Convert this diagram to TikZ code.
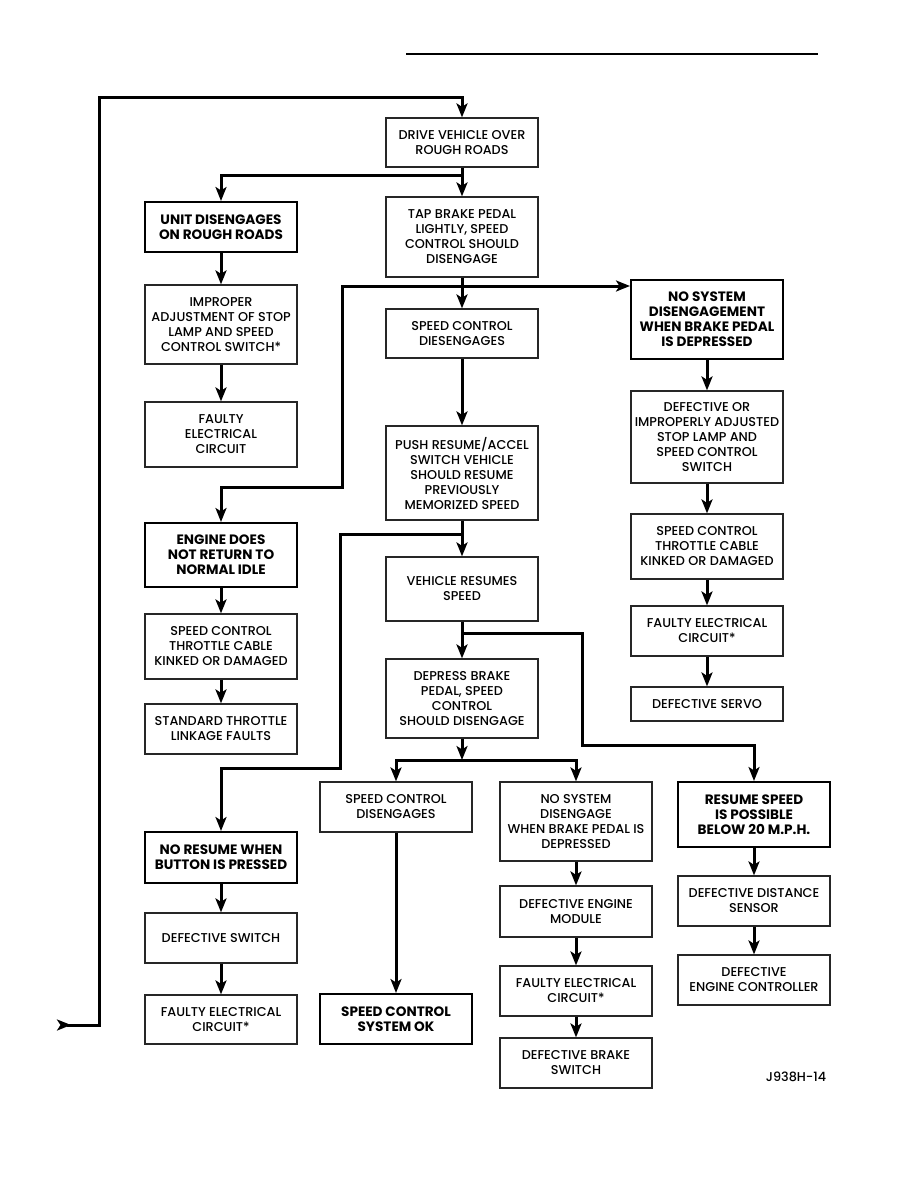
\documentclass[tikz,border=0pt]{standalone}
\usepackage{fontspec}
\IfFontExistsTF{Poppins Medium}
  {\setmainfont{Poppins Medium}[BoldFont={Poppins Bold}]}
  {\setmainfont{Poppins}}
\usetikzlibrary{arrows.meta}
\begin{document}
\begin{tikzpicture}[x=1pt,y=-1pt,
  box/.style={draw=black!85, line width=1.2pt, inner sep=0pt, minimum width=152pt, align=center,
    font=\fontsize{12.8}{15}\selectfont},
  boldbox/.style={box, draw=black, line width=2pt, font=\fontsize{13.6}{15}\selectfont\bfseries},
  flow/.style={line width=3pt, draw=black},
  tip/.tip={Stealth[length=14pt,width=11pt,inset=3.5pt]},
  arr/.style={flow, -tip},
]
\useasboundingbox (0,0) rectangle (918,1188);
\draw[line width=2pt] (406,54) -- (818,54);

% main column (center x=462)
\node[box, minimum height=49pt] (drive) at (462,142.5) {DRIVE VEHICLE OVER\\ROUGH ROADS};
\node[box, minimum height=80pt] (tap) at (462,237) {TAP BRAKE PEDAL\\LIGHTLY, SPEED\\CONTROL SHOULD\\DISENGAGE};
\node[box, minimum height=49pt] (scdis1) at (462,333.5) {SPEED CONTROL\\DIESENGAGES};
\node[box, minimum height=94pt] (push) at (462,473) {PUSH RESUME/ACCEL\\SWITCH VEHICLE\\SHOULD RESUME\\PREVIOUSLY\\MEMORIZED SPEED};
\node[box, minimum height=64pt] (vresume) at (462,589) {VEHICLE RESUMES\\SPEED};
\node[box, minimum height=79pt] (depress) at (462,698.5) {DEPRESS BRAKE\\PEDAL, SPEED\\CONTROL\\SHOULD DISENGAGE};

% left column (center x=221)
\node[boldbox, minimum height=50pt] (unit) at (221,227) {UNIT DISENGAGES\\ON ROUGH ROADS};
\node[box, minimum height=79pt] (improper) at (221,324.5) {IMPROPER\\ADJUSTMENT OF STOP\\LAMP AND SPEED\\CONTROL SWITCH*};
\node[box, minimum height=65pt] (faulty1) at (221,434.5) {FAULTY\\ELECTRICAL\\CIRCUIT};
\node[boldbox, minimum height=64pt] (engine) at (221,555) {ENGINE DOES\\NOT RETURN TO\\NORMAL IDLE};
\node[box, minimum height=65pt] (throttleL) at (221,646.5) {SPEED CONTROL\\THROTTLE CABLE\\KINKED OR DAMAGED};
\node[box, minimum height=50pt] (standard) at (221,729) {STANDARD THROTTLE\\LINKAGE FAULTS};
\node[boldbox, minimum height=51pt] (noresume) at (221,857.5) {NO RESUME WHEN\\BUTTON IS PRESSED};
\node[box, minimum height=50pt] (defsw) at (221,938) {DEFECTIVE SWITCH};
\node[box, minimum height=49pt] (faultyL2) at (221,1019.5) {FAULTY ELECTRICAL\\CIRCUIT*};

% right column (center x=707)
\node[boldbox, minimum height=79pt] (nosys1) at (707,319.5) {NO SYSTEM\\DISENGAGEMENT\\WHEN BRAKE PEDAL\\IS DEPRESSED};
\node[box, minimum height=92pt] (defor) at (707,437) {DEFECTIVE OR\\IMPROPERLY ADJUSTED\\STOP LAMP AND\\SPEED CONTROL\\SWITCH};
\node[box, minimum height=65pt] (throttleR) at (707,546.5) {SPEED CONTROL\\THROTTLE CABLE\\KINKED OR DAMAGED};
\node[box, minimum height=50pt] (faultyR) at (707,631) {FAULTY ELECTRICAL\\CIRCUIT*};
\node[box, minimum height=34pt] (servo) at (707,704) {DEFECTIVE SERVO};

% lower branches
\node[box, minimum height=50pt] (scdis2) at (396,807) {SPEED CONTROL\\DISENGAGES};
\node[boldbox, minimum height=50pt] (scok) at (396,1019) {SPEED CONTROL\\SYSTEM OK};
\node[box, minimum height=79pt] (nosys2) at (576,821.5) {NO SYSTEM\\DISENGAGE\\WHEN BRAKE PEDAL IS\\DEPRESSED};
\node[box, minimum height=51pt] (defeng) at (576,911.5) {DEFECTIVE ENGINE\\MODULE};
\node[box, minimum height=50pt] (faultyM) at (576,991) {FAULTY ELECTRICAL\\CIRCUIT*};
\node[box, minimum height=50pt] (brake) at (576,1063) {DEFECTIVE BRAKE\\SWITCH};
\node[boldbox, minimum height=65pt] (resumesp) at (754,814.5) {RESUME SPEED\\IS POSSIBLE\\BELOW 20 M.P.H.};
\node[box, minimum height=50pt] (distance) at (754,901) {DEFECTIVE DISTANCE\\SENSOR};
\node[box, minimum height=50pt] (controller) at (754,980) {DEFECTIVE\\ENGINE CONTROLLER};

\node[font=\fontsize{12.8}{14}\selectfont] (figid) at (796,1077) {J938H-14};

% coordinates
\coordinate (loopin) at (57,1025);
\coordinate (loopA) at (99,1025);
\coordinate (loopB) at (99,98);
\coordinate (j1) at (462,175);
\coordinate (j2) at (462,286);
\coordinate (c2a) at (342,286);
\coordinate (c2b) at (342,487);
\coordinate (j3) at (462,534);
\coordinate (c3a) at (340,534);
\coordinate (c3b) at (340,768);
\coordinate (j4) at (462,633);
\coordinate (c4a) at (582,633);
\coordinate (c4b) at (582,745);
\coordinate (j5) at (462,760);

% connectors
\draw[flow, {Stealth[length=14pt,width=11pt,inset=3.5pt,reversed]}-tip]
  (loopin) -- (loopA) -- (loopB) -| (drive.north);
\draw[arr] (drive.south) -- (tap.north);
\draw[arr] (j1) -| (unit.north);
\draw[arr] (unit) -- (improper);
\draw[arr] (improper) -- (faulty1);
\draw[arr] (tap.south) -- (scdis1.north);
\draw[arr] (j2) -- (j2 -| nosys1.west);
\draw[arr] (j2) -- (c2a) -- (c2b) -| (engine.north);
\draw[arr] (scdis1) -- (push);
\draw[arr] (nosys1) -- (defor);
\draw[arr] (defor) -- (throttleR);
\draw[arr] (throttleR) -- (faultyR);
\draw[arr] (faultyR) -- (servo);
\draw[arr] (engine) -- (throttleL);
\draw[arr] (throttleL) -- (standard);
\draw[arr] (push.south) -- (vresume.north);
\draw[arr] (j3) -- (c3a) -- (c3b) -| (noresume.north);
\draw[arr] (noresume) -- (defsw);
\draw[arr] (defsw) -- (faultyL2);
\draw[arr] (vresume.south) -- (depress.north);
\draw[arr] (j4) -- (c4a) -- (c4b) -| (resumesp.north);
\draw[arr] (depress.south) -- (j5);
\draw[arr] (j5) -| (scdis2.north);
\draw[arr] (j5) -| (nosys2.north);
\draw[arr] (scdis2.south) -- (scok.north);
\draw[arr] (nosys2) -- (defeng);
\draw[arr] (defeng) -- (faultyM);
\draw[arr] (faultyM) -- (brake);
\draw[arr] (resumesp) -- (distance);
\draw[arr] (distance) -- (controller);
\end{tikzpicture}
\end{document}
